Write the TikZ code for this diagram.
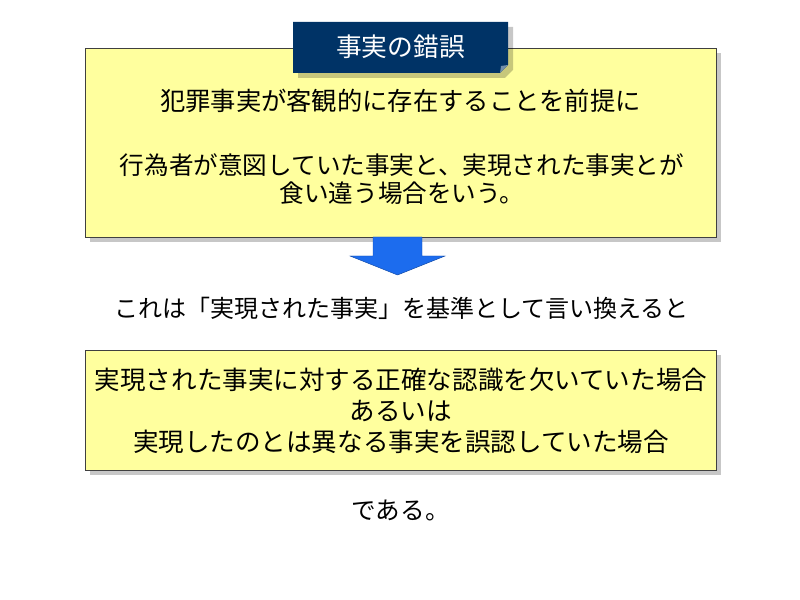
\documentclass[tikz,border=0pt]{standalone}
\usepackage{fontspec}
\setmainfont{Noto Sans CJK JP}
\usetikzlibrary{positioning,shadows}
\definecolor{memo}{RGB}{255,255,158}
\definecolor{navy}{RGB}{0,51,102}
\definecolor{arrowblue}{RGB}{28,108,238}

\begin{document}
\begin{tikzpicture}[x=0.03cm,y=-0.03cm,
	memobox/.style={draw=black!75,fill=memo,inner sep=0pt,minimum width=18.93cm,
		drop shadow={shadow xshift=0.14cm,shadow yshift=-0.14cm,fill=black,opacity=0.22}},
	body/.style={font=\fontsize{21pt}{24pt}\selectfont,align=center,inner sep=0pt}]
	% frame
	\useasboundingbox (0,0) rectangle (800,600);

	% premise box
	\node[memobox,minimum height=5.67cm] (premise) at (400.5,142.5) {};
	\node[body,font=\fontsize{21.6pt}{24pt}\selectfont] (premiseA) at (400.5,101) {犯罪事実が客観的に存在することを前提に};
	\node[body] (premiseB) at (402,179) {行為者が意図していた事実と、実現された事実とが\\食い違う場合をいう。};

	% title tab
	\fill[black,opacity=0.22] (298,27) -- (513,27) -- (513,70) -- (505,78) -- (298,78) -- cycle;
	\fill[navy] (293,22) -- (508,22) -- (508,65) -- (500,73) -- (293,73) -- cycle;
	\fill[navy!55!white] (508,65) -- (500,73) -- (501,66) -- cycle;
	\node[body,text=white,font=\fontsize{22pt}{26pt}\selectfont] (title) at (400.5,47) {事実の錯誤};

	% arrow
	\filldraw[fill=arrowblue,draw=arrowblue!70!black,thin]
		(373,237) -- (422,237) -- (422,256) -- (445,256) -- (397.5,275)
		-- (350,256) -- (373,256) -- cycle;

	% restatement
	\node[body,font=\fontsize{20.5pt}{24pt}\selectfont] (restate) at (401.5,308) {これは「実現された事実」を基準として言い換えると};

	% second box
	\node[memobox,minimum height=3.6cm] (recast) at (400.5,410.5) {};
	\node[body,font=\fontsize{21.8pt}{26.4pt}\selectfont] (recastText) at (401,411)
		{実現された事実に対する正確な認識を欠いていた場合\\あるいは\\実現したのとは異なる事実を誤認していた場合};

	% closing
	\node[body] (closing) at (400.5,510) {である。};
\end{tikzpicture}
\end{document}
